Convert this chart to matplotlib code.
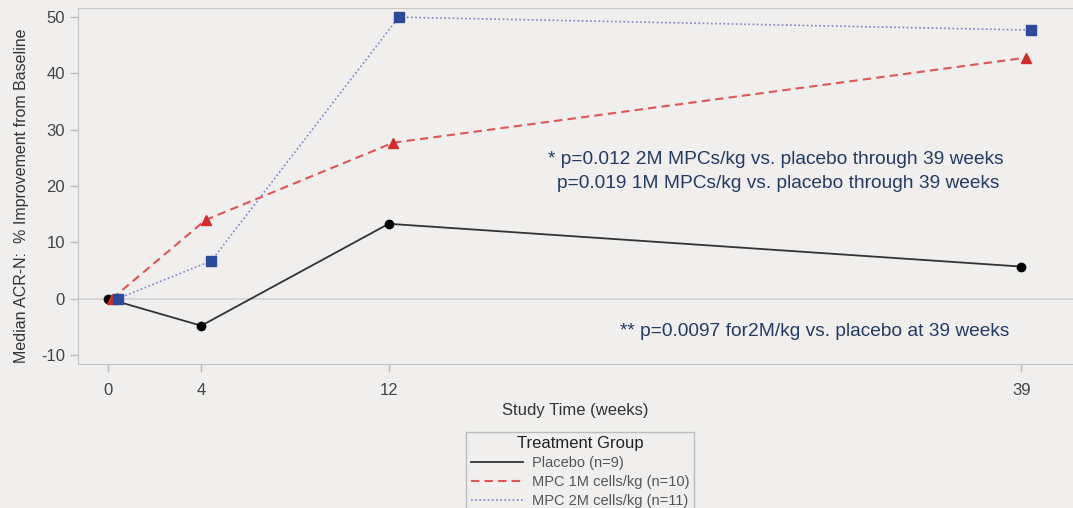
import matplotlib
matplotlib.use("Agg")
import matplotlib.pyplot as plt
import matplotlib.transforms as mtransforms

plt.rcParams['font.family'] = ['Liberation Sans', 'DejaVu Sans']
plt.rcParams['axes.unicode_minus'] = False

# study weeks and median ACR-N % improvement
weeks = [0, 4, 12, 39]
placebo = [0, -4.8, 13.3, 5.7]
mpc_1m = [0, 14.0, 27.7, 42.8]
mpc_2m = [0, 6.7, 50.0, 47.7]
labels = ['Placebo (n=9)', 'MPC 1M cells/kg (n=10)', 'MPC 2M cells/kg (n=11)']
yticks = [-10, 0, 10, 20, 30, 40, 50]

bg = '#f0efed'
fig = plt.figure(figsize=(10.73, 5.08), dpi=100, facecolor=bg)
ax = fig.add_axes([0.0727, 0.2835, 0.9273, 0.7005], facecolor=bg)

def shift(px):
    # small horizontal dodge between groups, in pixels
    return ax.transData + mtransforms.ScaledTranslation(px / 100, 0, fig.dpi_scale_trans)

ax.axhline(0, color='#d2d2d2', lw=1.2, zorder=1)

l1, = ax.plot(weeks, placebo, color='#333333', lw=1.3, ls='-',
              marker='o', ms=6, mfc='black', mec='black', zorder=3)
l2, = ax.plot(weeks, mpc_1m, color='#e05555', lw=1.5, ls=(0, (4, 2.5)),
              marker='^', ms=7, mfc='#d42a2a', mec='#d42a2a', zorder=3,
              transform=shift(4.5))
l3, = ax.plot(weeks, mpc_2m, color='#8080c8', lw=1.2, ls=(0, (1, 1.5)),
              marker='s', ms=6.5, mfc='#2b4a9c', mec='#2b4a9c', zorder=3,
              transform=shift(10))

ax.set_xlim(-1.26, 41.2)
ax.set_ylim(-11.6, 51.6)
ax.set_xticks(weeks)
ax.set_xticklabels([str(w) for w in weeks])
ax.set_yticks(yticks)

for s in ['left', 'bottom', 'top']:
    ax.spines[s].set_color('#c4c4c4')
ax.spines['right'].set_visible(False)
ax.tick_params(colors='#bbbbbb', labelcolor='#444444', labelsize=12, length=6, width=1)
ax.tick_params(axis='x', pad=8)

ax.set_xlabel('Study Time (weeks)', fontsize=12, color='#333333', labelpad=3)
ax.set_ylabel('Median ACR-N:  % Improvement from Baseline', fontsize=11.5,
              color='#333333')
ax.yaxis.set_label_coords(-0.0495, 0.472)

navy = '#233a63'
ax.text(0.472, 0.575, '* p=0.012 2M MPCs/kg vs. placebo through 39 weeks',
        transform=ax.transAxes, fontsize=13.8, color=navy, ha='left', va='center')
ax.text(0.481, 0.508, 'p=0.019 1M MPCs/kg vs. placebo through 39 weeks',
        transform=ax.transAxes, fontsize=13.8, color=navy, ha='left', va='center')
ax.text(0.5445, 0.092, '** p=0.0097 for2M/kg vs. placebo at 39 weeks',
        transform=ax.transAxes, fontsize=13.8, color=navy, ha='left', va='center')

h1, = ax.plot([], [], color='#333333', lw=1.3)
h2, = ax.plot([], [], color='#e05555', lw=1.5, ls=(0, (4, 2.5)))
h3, = ax.plot([], [], color='#8080c8', lw=1.2, ls=(0, (1, 1.5)))
leg = fig.legend([h1, h2, h3], labels, title='Treatment Group',
                 loc='upper center', bbox_to_anchor=(0.5405, 0.15),
                 fontsize=10.5, title_fontsize=12, frameon=True, fancybox=False,
                 handlelength=3.6, labelspacing=0.35, borderpad=0.3,
                 handletextpad=0.6, borderaxespad=0)
leg.get_frame().set_facecolor(bg)
leg.get_frame().set_edgecolor('#b0b0b0')
for t in leg.get_texts():
    t.set_color('#555555')
leg.get_title().set_color('#222222')

fig.savefig('out.png', dpi=100, facecolor=bg)
